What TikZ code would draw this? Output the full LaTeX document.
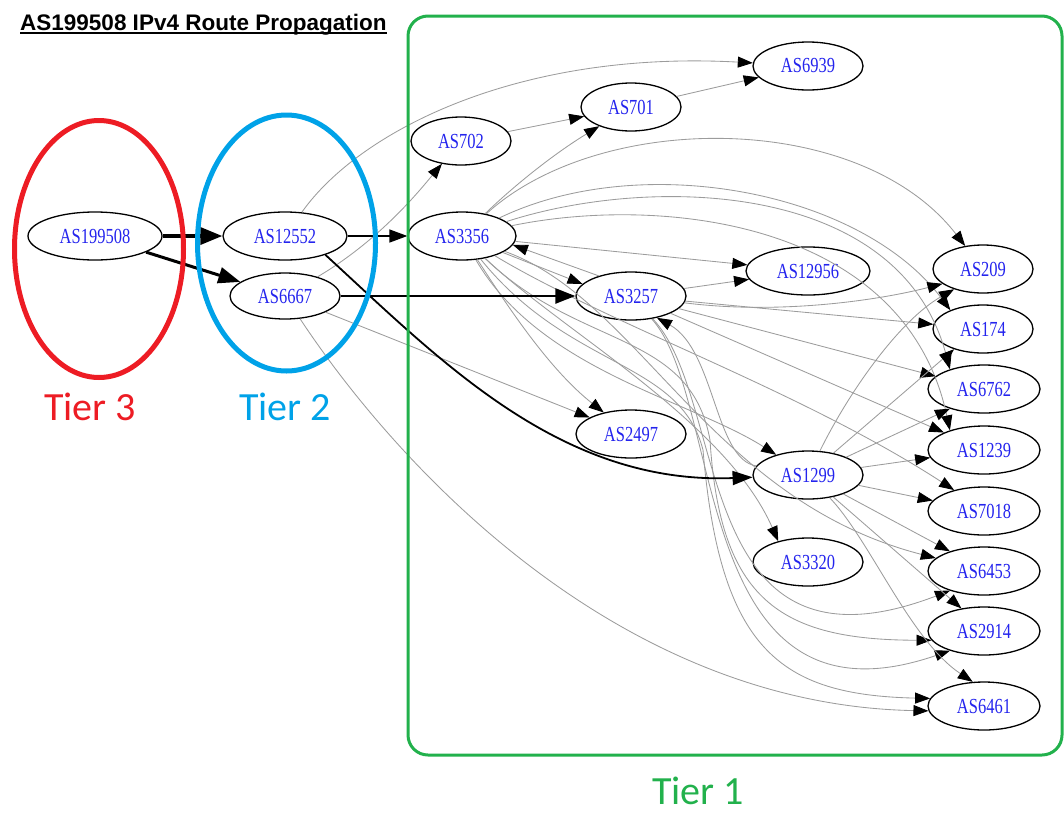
\documentclass[tikz,border=0pt]{standalone}
\usepackage{fontspec}
\usepackage{graphicx}
\setmainfont{Liberation Serif}
\newfontfamily\titlefont{Liberation Sans}
\newfontfamily\tierfont{Carlito}
\usetikzlibrary{shapes.geometric,arrows.meta}
\definecolor{tred}{HTML}{ED1C24}
\definecolor{tblue}{HTML}{00A2E8}
\definecolor{tgreen}{HTML}{22B14C}
\definecolor{lblblue}{HTML}{2424EE}
\definecolor{edgegray}{HTML}{9C9C9C}
\newcommand{\aslbl}[1]{\scalebox{1}[1.3]{#1}}
\tikzset{
  asnode/.style={ellipse, draw, fill=white, line width=1.3pt, inner sep=0pt,
    minimum width=#1, minimum height=48pt,
    font=\fontsize{16.5}{18}\selectfont, text=lblblue},
  gedge/.style={draw=edgegray, line width=0.85pt,
    -{Triangle[length=15pt,width=11pt,color=black]}},
  bedge/.style={draw=black},
  tierlbl/.style={font=\tierfont\fontsize{40}{44}\selectfont, anchor=base, inner sep=0pt},
}
\begin{document}
\begin{tikzpicture}[x=1pt,y=-1pt]
\useasboundingbox (0,0) rectangle (1064,814);

% title
\node[anchor=base west, inner sep=0pt, font=\titlefont\bfseries\fontsize{22.5}{26}\selectfont] (title) at (20,30) {AS199508 IPv4 Route Propagation};
\draw[line width=1.5pt] ([yshift=-3pt]title.base west) -- ([yshift=-3pt]title.base east);

% nodes
\node[asnode=134pt] (n199508) at (95,236) {\aslbl{AS199508}};
\node[asnode=124pt] (n12552) at (285,236) {\aslbl{AS12552}};
\node[asnode=110pt,minimum height=46pt] (n6667) at (285,296) {\aslbl{AS6667}};
\node[asnode=100pt] (n702) at (461,141) {\aslbl{AS702}};
\node[asnode=100pt] (n701) at (631,107) {\aslbl{AS701}};
\node[asnode=110pt] (n6939) at (808,66) {\aslbl{AS6939}};
\node[asnode=108pt] (n3356) at (462,236) {\aslbl{AS3356}};
\node[asnode=110pt] (n3257) at (631,296) {\aslbl{AS3257}};
\node[asnode=110pt] (n2497) at (631,434) {\aslbl{AS2497}};
\node[asnode=124pt] (n12956) at (808,271) {\aslbl{AS12956}};
\node[asnode=110pt] (n1299) at (808,475) {\aslbl{AS1299}};
\node[asnode=110pt] (n3320) at (808,562) {\aslbl{AS3320}};
\node[asnode=100pt] (n209) at (983,269) {\aslbl{AS209}};
\node[asnode=100pt] (n174) at (983,329) {\aslbl{AS174}};
\node[asnode=112pt] (n6762) at (984,389) {\aslbl{AS6762}};
\node[asnode=112pt] (n1239) at (984,450) {\aslbl{AS1239}};
\node[asnode=112pt] (n7018) at (984,511) {\aslbl{AS7018}};
\node[asnode=112pt] (n6453) at (984,571) {\aslbl{AS6453}};
\node[asnode=112pt] (n2914) at (984,631) {\aslbl{AS2914}};
\node[asnode=112pt] (n6461) at (984,706) {\aslbl{AS6461}};

% gray edges
\draw[gedge] (n12552) .. controls (360,130) and (520,50) .. (n6939);
\draw[gedge] (n6667) .. controls (380,240) and (420,190) .. (n702);
\draw[gedge] (n6667) -- (n2497);
\draw[gedge] (n6667) .. controls (400,470) and (620,705) .. (n6461.185);
\draw[gedge] (n3356) .. controls (520,180) and (560,150) .. (n701);
\draw[gedge] (n702) -- (n701);
\draw[gedge] (n701) -- (n6939);
\draw[gedge] (n3356) .. controls (600,110) and (860,110) .. (n209);
\draw[gedge] (n3356) .. controls (640,150) and (860,190) .. (n174.150);
\draw[gedge] (n3356) .. controls (650,175) and (900,180) .. (n6762.150);
\draw[gedge] (n3356) .. controls (660,195) and (905,220) .. (n1239.150);
\draw[gedge] (n3356) -- (n12956);
\draw[gedge] (n3356.-22) -- (n3257.166);
\draw[gedge] (n3257.148) -- (n3356.-10);
\draw[gedge] (n3356) .. controls (510,310) and (550,370) .. (n2497);
\draw[gedge] (n3356) .. controls (540,370) and (690,400) .. (n1299);
\draw[gedge] (n3356) .. controls (560,330) and (725,420) .. (n3320.145);
\draw[gedge] (n3356) .. controls (640,300) and (710,500) .. (n6453.165);
\draw[gedge] (n3356) .. controls (610,325) and (800,390) .. (n7018.145);
\draw[gedge] (n3356) .. controls (580,350) and (690,330) .. (710,440) .. controls (720,600) and (780,640) .. (n2914.190);
\draw[gedge] (n3356) .. controls (570,370) and (680,360) .. (703,450) .. controls (720,650) and (780,695) .. (n6461.172);
% AS3257 edges
\draw[gedge] (n3257) -- (n12956);
\draw[gedge] (n3257) .. controls (780,315) and (880,300) .. (n209.200);
\draw[gedge] (n3257) -- (n174);
\draw[gedge] (n3257) -- (n6762);
\draw[gedge] (n3257) -- (n1239);
\draw[gedge] (n3257) .. controls (730,400) and (690,690) .. (n6453.210);
\draw[gedge] (n3257) .. controls (725,400) and (690,740) .. (n2914.210);
\draw[gedge] (n1299.170) .. controls (715,460) and (715,350) .. (n3257.-40);
% AS1299 edges
\draw[gedge] (n1299) .. controls (850,390) and (900,320) .. (n209.215);
\draw[gedge] (n1299) -- (n174.215);
\draw[gedge] (n1299) -- (n6762.210);
\draw[gedge] (n1299) -- (n1239);
\draw[gedge] (n1299) -- (n7018);
\draw[gedge] (n1299) -- (n6453.150);
\draw[gedge] (n1299) -- (n2914.135);
\draw[gedge] (n1299) .. controls (870,540) and (910,640) .. (n6461.115);

% black edges
\draw[bedge, line width=3.5pt, -{Triangle[length=22pt,width=17pt]}] (n199508) -- (n12552);
\draw[bedge, line width=3pt, -{Triangle[length=22pt,width=16pt]}] (n199508) -- (n6667);
\draw[bedge, line width=1.5pt, -{Triangle[length=18pt,width=13pt]}] (n12552) -- (n3356);
\draw[bedge, line width=2.5pt, -{Triangle[length=20pt,width=15pt]}] (n6667) -- (n3257);
\draw[bedge, line width=1.8pt, -{Triangle[length=20pt,width=14pt]}] (n12552.-25) .. controls (440,360) and (560,485) .. (n1299);

% tier annotations
\draw[tred, line width=5pt] (99,249) ellipse [x radius=84.5pt, y radius=128.5pt];
\draw[tblue, line width=5pt] (286.5,243) ellipse [x radius=89pt, y radius=128pt];
\draw[tgreen, line width=3pt, rounded corners=20pt] (408,16) rectangle (1062,755);
\node[tierlbl, text=tred] (t3) at (90,420) {Tier 3};
\node[tierlbl, text=tblue] (t2) at (285,420) {Tier 2};
\node[tierlbl, text=tgreen] (t1) at (698,804) {Tier 1};
\end{tikzpicture}
\end{document}
